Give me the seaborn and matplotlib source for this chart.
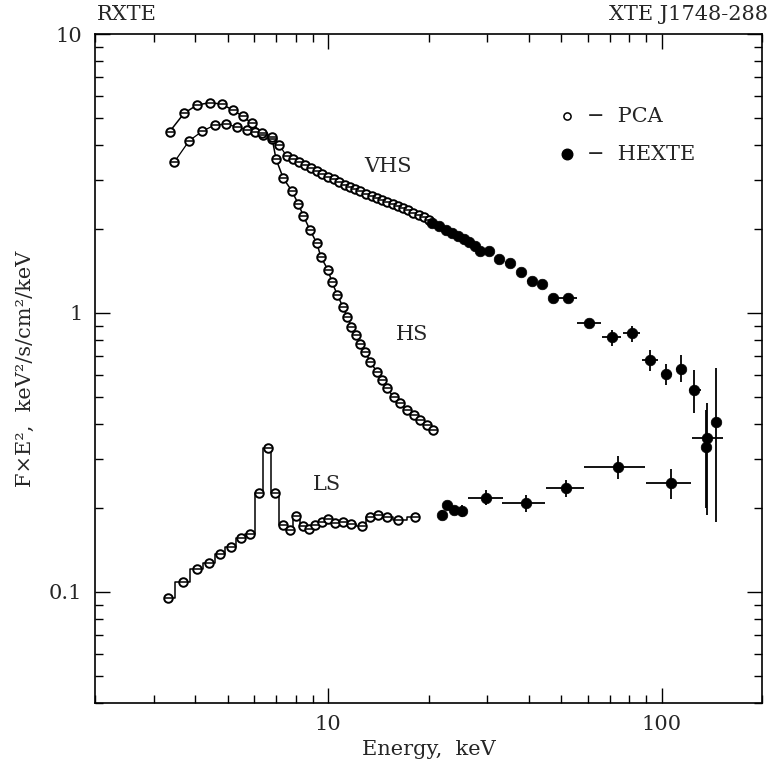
import numpy as np
import pandas as pd
import seaborn as sns
import matplotlib
matplotlib.use("Agg")
import matplotlib.pyplot as plt
from matplotlib.ticker import FixedLocator, FixedFormatter, LogLocator, NullFormatter

# ---------------- data ----------------
# Very high state (VHS), PCA
vhs_pca_e = [3.46, 3.83, 4.20, 4.58, 4.94, 5.32, 5.70, 6.04, 6.39, 6.78, 7.14, 7.51, 7.85,
             8.20, 8.55, 8.90, 9.25, 9.60, 9.98, 10.4, 10.8, 11.2, 11.6, 12.0, 12.5, 13.0,
             13.5, 14.0, 14.5, 15.0, 15.6, 16.2, 16.8, 17.4, 18.0, 18.7, 19.4, 20.1]
vhs_pca_f = [3.48, 4.14, 4.49, 4.72, 4.75, 4.65, 4.53, 4.47, 4.35, 4.22, 4.00, 3.65, 3.56,
             3.49, 3.40, 3.31, 3.23, 3.16, 3.08, 3.01, 2.94, 2.88, 2.83, 2.78, 2.73, 2.68,
             2.63, 2.58, 2.54, 2.50, 2.46, 2.42, 2.38, 2.34, 2.29, 2.25, 2.21, 2.16]

# High state (HS), PCA
hs_pca_e = [3.35, 3.70, 4.05, 4.42, 4.80, 5.17, 5.54, 5.90, 6.32, 6.78, 6.98, 7.34, 7.78,
            8.14, 8.43, 8.83, 9.25, 9.51, 9.98, 10.26, 10.66, 11.07, 11.4, 11.75, 12.14,
            12.48, 12.91, 13.37, 14.0, 14.49, 15.0, 15.71, 16.45, 17.22, 18.04, 18.9, 19.8, 20.7]
hs_pca_f = [4.47, 5.20, 5.57, 5.67, 5.61, 5.34, 5.08, 4.79, 4.41, 4.28, 3.56, 3.04, 2.74,
            2.46, 2.23, 1.98, 1.78, 1.59, 1.43, 1.295, 1.16, 1.053, 0.970, 0.893, 0.834,
            0.774, 0.727, 0.669, 0.616, 0.575, 0.537, 0.501, 0.474, 0.449, 0.431, 0.414, 0.397, 0.381]

# Low state (LS), PCA
ls_pca_e = [3.31, 3.66, 4.05, 4.39, 4.74, 5.10, 5.47, 5.83, 6.21, 6.59, 6.93, 7.31, 7.69,
            8.00, 8.43, 8.77, 9.14, 9.57, 10.02, 10.5, 11.1, 11.7, 12.6, 13.4, 14.1, 15.0,
            16.2, 18.25]
ls_pca_f = [0.0949, 0.1089, 0.1206, 0.1274, 0.1368, 0.1453, 0.1565, 0.1609, 0.2258, 0.329,
            0.227, 0.1738, 0.1668, 0.1877, 0.1724, 0.1678, 0.1738, 0.1786, 0.1823, 0.1763,
            0.1786, 0.1749, 0.1724, 0.1852, 0.1888, 0.1862, 0.1811, 0.1852]

# VHS, HEXTE (energy, flux, energy bin low/high, flux error low/high)
vhs_hx_e = [20.5, 21.5, 22.5, 23.5, 24.5, 25.5, 26.5, 27.5, 28.6, 30.3, 32.5, 35.0, 37.9,
            40.9, 43.8, 47.2, 52.3, 60.5, 70.8, 81.3, 92.1, 103.3, 114.0, 125.0, 136.0, 146.0]
vhs_hx_f = [2.11, 2.05, 1.99, 1.94, 1.89, 1.84, 1.79, 1.74, 1.67, 1.67, 1.557, 1.507, 1.406,
            1.302, 1.267, 1.129, 1.129, 0.923, 0.822, 0.850, 0.679, 0.603, 0.630, 0.530, 0.330, 0.406]
vhs_hx_elo = [20.0, 21.0, 22.0, 23.0, 24.0, 25.0, 26.0, 27.0, 28.0, 29.6, 31.6, 34.0, 36.8,
              39.6, 42.5, 46.6, 49.6, 55.8, 66.2, 76.6, 87.2, 99.4, 110.1, 120.8, 136.0, 146.0]
vhs_hx_ehi = [21.0, 22.0, 23.0, 24.0, 25.0, 26.0, 27.0, 28.0, 29.2, 31.0, 33.4, 36.0, 39.0,
              42.2, 45.1, 49.6, 55.8, 65.7, 75.4, 86.2, 97.7, 107.7, 118.0, 131.4, 136.0, 146.0]
vhs_hx_flo = [2.08, 2.02, 1.96, 1.91, 1.86, 1.81, 1.76, 1.71, 1.64, 1.64, 1.53, 1.48, 1.38,
              1.27, 1.23, 1.10, 1.10, 0.89, 0.763, 0.789, 0.621, 0.552, 0.565, 0.438, 0.20, 0.178]
vhs_hx_fhi = [2.14, 2.08, 2.02, 1.97, 1.92, 1.87, 1.82, 1.77, 1.70, 1.70, 1.58, 1.53, 1.43,
              1.33, 1.30, 1.16, 1.16, 0.95, 0.869, 0.898, 0.737, 0.655, 0.707, 0.625, 0.45, 0.635]

# LS, HEXTE
ls_hx_e = [21.9, 22.7, 23.8, 25.2, 29.8, 39.3, 51.7, 74.1, 106.4, 137.0]
ls_hx_f = [0.189, 0.205, 0.197, 0.195, 0.218, 0.208, 0.2365, 0.280, 0.2464, 0.3555]
ls_hx_elo = [21.4, 22.2, 23.3, 24.6, 26.2, 33.3, 45.0, 58.7, 89.7, 123.4]
ls_hx_ehi = [22.4, 23.2, 24.3, 25.8, 33.5, 44.8, 58.5, 89.2, 122.4, 152.4]
ls_hx_flo = [0.182, 0.198, 0.190, 0.185, 0.205, 0.194, 0.219, 0.254, 0.216, 0.189]
ls_hx_fhi = [0.196, 0.212, 0.204, 0.205, 0.232, 0.223, 0.253, 0.307, 0.276, 0.476]

state_labels = ["VHS", "HS", "LS"]
state_label_pos = [(15.1, 3.36), (17.8, 0.84), (9.9, 0.242)]

x_ticks = [10, 100]
x_ticklabels = ["10", "100"]
y_ticks = [0.1, 1, 10]
y_ticklabels = ["0.1", "1", "10"]

# ---------------- style ----------------
sns.set_style("ticks")
plt.rcParams["font.family"] = ["DejaVu Serif"]
plt.rcParams["mathtext.fontset"] = "dejavuserif"
FS = 15

fig = plt.figure(figsize=(7.71, 7.69), dpi=100)
ax = fig.add_axes([95 / 771, 66 / 769, 667 / 771, 669 / 769])
ax.set_xscale("log")
ax.set_yscale("log")

pca_size = 38
hx_size = 58

# model lines
sns.lineplot(x=hs_pca_e, y=hs_pca_f, ax=ax, color="black", lw=1.1, sort=False,
             estimator=None, zorder=2)
sns.lineplot(x=vhs_pca_e, y=vhs_pca_f, ax=ax, color="black", lw=0.9, sort=False,
             estimator=None, zorder=2)
sns.lineplot(x=ls_pca_e, y=ls_pca_f, ax=ax, color="black", lw=1.1, sort=False,
             estimator=None, drawstyle="steps-mid", zorder=2)

# PCA points: open circles with a bar through them
for e, f in [(vhs_pca_e, vhs_pca_f), (hs_pca_e, hs_pca_f), (ls_pca_e, ls_pca_f)]:
    sns.scatterplot(x=e, y=f, ax=ax, marker="o", s=pca_size, facecolors="white",
                    edgecolors="black", linewidth=1.4, zorder=3)
    sns.scatterplot(x=e, y=f, ax=ax, marker="_", s=pca_size, color="black",
                    linewidth=1.1, zorder=4)

# HEXTE points with error bars
for e, f, elo, ehi, flo, fhi in [
    (vhs_hx_e, vhs_hx_f, vhs_hx_elo, vhs_hx_ehi, vhs_hx_flo, vhs_hx_fhi),
    (ls_hx_e, ls_hx_f, ls_hx_elo, ls_hx_ehi, ls_hx_flo, ls_hx_fhi),
]:
    e = np.array(e); f = np.array(f)
    xerr = [e - np.array(elo), np.array(ehi) - e]
    yerr = [f - np.array(flo), np.array(fhi) - f]
    ax.errorbar(e, f, xerr=xerr, yerr=yerr, fmt="none", ecolor="black",
                elinewidth=1.3, capsize=0, zorder=2)
    sns.scatterplot(x=e, y=f, ax=ax, marker="o", s=hx_size, color="black",
                    edgecolor="black", linewidth=0.5, zorder=3)

# state labels
for lab, (xe, yf) in zip(state_labels, state_label_pos):
    ax.text(xe, yf, lab, fontsize=FS, ha="center", va="center")

# legend (hand made)
ax.scatter([0.7076], [0.8774], transform=ax.transAxes, s=pca_size * 0.7,
           facecolors="white", edgecolors="black", linewidths=1.1, zorder=5)
ax.scatter([0.7076], [0.8206], transform=ax.transAxes, s=hx_size,
           color="black", zorder=5)
ax.text(0.738, 0.8774, "\u2212  PCA", transform=ax.transAxes, fontsize=FS,
        ha="left", va="center")
ax.text(0.738, 0.8206, "\u2212  HEXTE", transform=ax.transAxes, fontsize=FS,
        ha="left", va="center")

# axes
ax.set_xlim(2, 200)
ax.set_ylim(0.04, 10)
ax.xaxis.set_major_locator(FixedLocator(x_ticks))
ax.xaxis.set_major_formatter(FixedFormatter(x_ticklabels))
ax.yaxis.set_major_locator(FixedLocator(y_ticks))
ax.yaxis.set_major_formatter(FixedFormatter(y_ticklabels))
ax.xaxis.set_minor_locator(LogLocator(base=10, subs=np.arange(2, 10)))
ax.yaxis.set_minor_locator(LogLocator(base=10, subs=np.arange(2, 10)))
ax.xaxis.set_minor_formatter(NullFormatter())
ax.yaxis.set_minor_formatter(NullFormatter())
ax.tick_params(which="both", direction="in", top=True, right=True, color="black",
               labelsize=FS, width=1.0)
ax.tick_params(which="major", length=11, pad=9)
ax.tick_params(which="minor", length=5.5)
for sp in ax.spines.values():
    sp.set_visible(True)
    sp.set_linewidth(1.2)
    sp.set_color("black")

ax.set_xlabel("Energy,  keV", fontsize=FS, labelpad=4)
ax.set_ylabel("F\u00d7E\u00b2,  keV\u00b2/s/cm\u00b2/keV", fontsize=FS, labelpad=10)

fig.text(97 / 771, 1 - 15 / 769, "RXTE", fontsize=FS, ha="left", va="center")
fig.text(768 / 771, 1 - 15 / 769, "XTE J1748-288", fontsize=FS, ha="right", va="center")

fig.savefig("out.png", dpi=100, facecolor="white")
